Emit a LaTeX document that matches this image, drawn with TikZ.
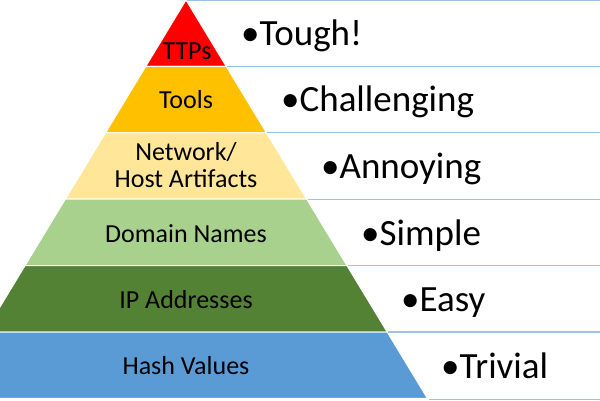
\documentclass[tikz,border=0pt]{standalone}
\usepackage{fontspec}
\setmainfont{Carlito}
\usetikzlibrary{positioning}
\definecolor{ttpred}{HTML}{FF0000}
\definecolor{toolorange}{HTML}{FFC000}
\definecolor{artifacttan}{HTML}{FFE699}
\definecolor{domaingreen}{HTML}{A9D18E}
\definecolor{ipgreen}{HTML}{548235}
\definecolor{hashblue}{HTML}{5B9BD5}
\definecolor{rulecol}{HTML}{9DC3E6}

\begin{document}
\begin{tikzpicture}[x=1pt, y=-1pt]
  \tikzstyle{band}=[draw=white, line width=1pt]
  \tikzstyle{bandlabel}=[font=\fontsize{26}{27}\selectfont, align=center, inner sep=0pt, anchor=base]
  \tikzstyle{pain}=[font=\fontsize{37}{40}\selectfont, inner sep=0pt, anchor=base west]
  \tikzstyle{rule}=[draw=rulecol, line width=1.2pt]

  \useasboundingbox (0,0) rectangle (600,400);
  \clip (0,0) rectangle (600,400);

  % Pyramid bands (top -> bottom), apex at (186,0)
  \foreach \top/\bot/\col in {0/66.4/ttpred, 66.4/132.8/toolorange, 132.8/199.2/artifacttan,
                              199.2/265.6/domaingreen, 265.6/332/ipgreen, 332/398.4/hashblue}
    \path[fill=\col, band] (186-0.606*\top,\top) -- (186+0.606*\top,\top)
      -- (186+0.606*\bot,\bot) -- (186-0.606*\bot,\bot) -- cycle;

  % Rules to the right of the pyramid
  \foreach \y in {0.6, 66.4, 132.8, 199.2, 265.6, 332, 399.2}
    \draw[rule] (187+0.606*\y,\y) -- (600,\y);

  % Indicator names
  \node[bandlabel] (ttps) at (187,59) {TTPs};
  \node[bandlabel] (tools) at (186,108) {Tools};
  \node[bandlabel, anchor=center] (artifacts) at (186,165) {Network/\\Host Artifacts};
  \node[bandlabel] (domains) at (186,242) {Domain Names};
  \node[bandlabel] (ipaddr) at (186,308) {IP Addresses};
  \node[bandlabel] (hashes) at (186,374) {Hash Values};

  % Pain levels
  \node[pain] (tough) at (241,45) {•Tough!};
  \node[pain] (challenging) at (281,111) {•Challenging};
  \node[pain] (annoying) at (321,178) {•Annoying};
  \node[pain] (simple) at (361,245) {•Simple};
  \node[pain] (easy) at (401,311) {•Easy};
  \node[pain] (trivial) at (441,378) {•Trivial};
\end{tikzpicture}
\end{document}
